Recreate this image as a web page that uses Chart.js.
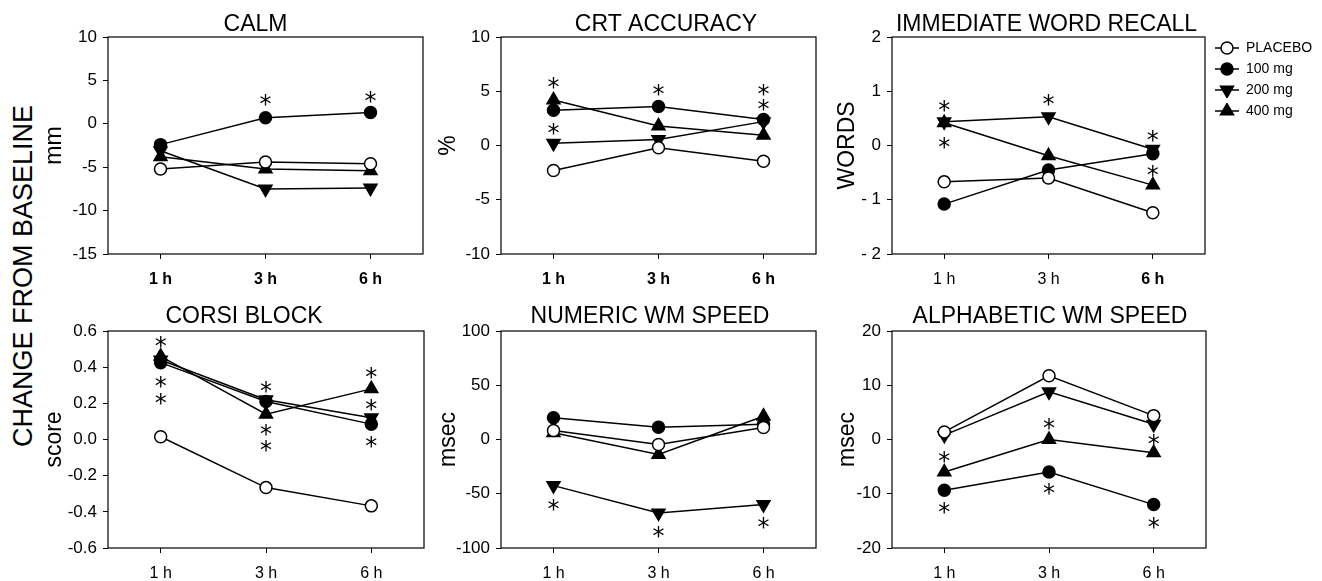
<!DOCTYPE html>
<html><head><meta charset="utf-8">
<script src="https://cdn.jsdelivr.net/npm/chart.js@4.4.1/dist/chart.umd.min.js"></script>
<style>
html,body{margin:0;padding:0;background:#fff;overflow:hidden;}
#wrap{position:relative;width:1322px;height:581px;}
#wrap canvas{position:absolute;}
#ylab{position:absolute;left:23px;top:276px;transform:translate(-50%,-50%) rotate(-90deg);font:27px "Liberation Sans",Arial,sans-serif;white-space:nowrap;color:#000;}
</style></head><body>
<div id="wrap"><div id="ylab">CHANGE FROM BASELINE</div></div>
<script>
// ---------- data ----------
const timepoints = ['1 h', '3 h', '6 h'];
const seriesNames = ['PLACEBO', '100 mg', '200 mg', '400 mg'];

// CALM (mm)
const calmPlacebo = [-5.2, -4.4, -4.6];
const calm100 = [-2.4, 0.7, 1.3];
const calm200 = [-3.1, -7.5, -7.4];
const calm400 = [-3.8, -5.2, -5.4];
const calmStars = [[1, 2.7], [2, 3.1]];
const calmTicks = [-15, -10, -5, 0, 5, 10];
const calmTickLabels = ['-15', '-10', '-5', '0', '5', '10'];

// CRT ACCURACY (%)
const crtPlacebo = [-2.3, -0.2, -1.45];
const crt100 = [3.25, 3.6, 2.4];
const crt200 = [0.2, 0.55, 2.2];
const crt400 = [4.2, 1.8, 0.95];
const crtStars = [[0, 5.8], [0, 1.55], [1, 5.1], [2, 5.15], [2, 3.75]];
const crtTicks = [-10, -5, 0, 5, 10];
const crtTickLabels = ['-10', '-5', '0', '5', '10'];

// IMMEDIATE WORD RECALL (words)
const iwrPlacebo = [-0.67, -0.6, -1.24];
const iwr100 = [-1.08, -0.45, -0.15];
const iwr200 = [0.44, 0.53, -0.07];
const iwr400 = [0.42, -0.19, -0.73];
const iwrStars = [[0, 0.72], [0, 0.05], [1, 0.83], [2, 0.17], [2, -0.47]];
const iwrTicks = [-2, -1, 0, 1, 2];
const iwrTickLabels = ['- 2', '- 1', '0', '1', '2'];

// CORSI BLOCK (score)
const corsiPlacebo = [0.015, -0.266, -0.367];
const corsi100 = [0.425, 0.21, 0.085];
const corsi200 = [0.44, 0.22, 0.12];
const corsi400 = [0.46, 0.14, 0.28];
const corsiStars = [[0, 0.54], [0, 0.32], [0, 0.225], [1, 0.29], [1, 0.05], [1, -0.035], [2, 0.365], [2, 0.19], [2, -0.015]];
const corsiTicks = [-0.6, -0.4, -0.2, 0, 0.2, 0.4, 0.6];
const corsiTickLabels = ['-0.6', '-0.4', '-0.2', '0.0', '0.2', '0.4', '0.6'];

// NUMERIC WM SPEED (msec)
const numPlacebo = [8.3, -4.6, 11];
const num100 = [20, 11.4, 14];
const num200 = [-42.5, -67.7, -60];
const num400 = [6.2, -13.8, 21.5];
const numStars = [[0, -60], [1, -85], [2, -77]];
const numTicks = [-100, -50, 0, 50, 100];
const numTickLabels = ['-100', '-50', '0', '50', '100'];

// ALPHABETIC WM SPEED (msec)
const alphaPlacebo = [1.4, 11.75, 4.4];
const alpha100 = [-9.35, -6.0, -12.0];
const alpha200 = [0.8, 8.8, 2.8];
const alpha400 = [-6.0, 0, -2.45];
const alphaStars = [[0, -3.2], [0, -12.7], [1, 2.8], [1, -9.2], [2, -0.1], [2, -15.3]];
const alphaTicks = [-20, -10, 0, 10, 20];
const alphaTickLabels = ['-20', '-10', '0', '10', '20'];

// ---------- styling ----------
const FONT = '"Liberation Sans", Arial, Helvetica, sans-serif';
const markerStyles = [
  { pointStyle: 'circle', rotation: 0, bg: '#ffffff', r: 6 },
  { pointStyle: 'circle', rotation: 0, bg: '#000000', r: 6 },
  { pointStyle: 'triangle', rotation: 180, bg: '#000000', r: 7.5 },
  { pointStyle: 'triangle', rotation: 0, bg: '#000000', r: 7.5 }
];

function legendIcon(i) {
  const c = document.createElement('canvas');
  c.width = 24; c.height = 16;
  const g = c.getContext('2d');
  g.strokeStyle = '#000'; g.lineWidth = 1.5;
  g.beginPath(); g.moveTo(0, 8); g.lineTo(24, 8); g.stroke();
  const st = markerStyles[i];
  g.fillStyle = st.bg; g.lineWidth = 1.5;
  g.beginPath();
  if (st.pointStyle === 'circle') {
    g.arc(12, 8, st.r, 0, Math.PI * 2);
  } else {
    const r = st.r, dir = st.rotation === 180 ? -1 : 1;
    for (let k = 0; k < 3; k++) {
      const a = k * 2 * Math.PI / 3;
      const px = 12 + Math.sin(a) * r, py = 8 - dir * Math.cos(a) * r;
      if (k === 0) g.moveTo(px, py); else g.lineTo(px, py);
    }
    g.closePath();
  }
  g.fill(); g.stroke();
  return c;
}
const legendIcons = [0, 1, 2, 3].map(legendIcon);

const starPlugin = {
  id: 'stars',
  afterDatasetsDraw(chart, args, opts) {
    const pts = opts.points || [];
    const { ctx } = chart;
    const xs = chart.scales.x, ys = chart.scales.y;
    ctx.save();
    ctx.font = '24px "DejaVu Sans", sans-serif';
    ctx.fillStyle = '#000';
    ctx.textAlign = 'center';
    ctx.textBaseline = 'alphabetic';
    const m = ctx.measureText('*');
    const off = (m.actualBoundingBoxAscent - m.actualBoundingBoxDescent) / 2;
    pts.forEach(([i, v]) => {
      ctx.fillText('*', xs.getPixelForValue(i), ys.getPixelForValue(v) + off);
    });
    ctx.restore();
  }
};

const framePlugin = {
  id: 'frame',
  beforeDatasetsDraw(chart) {
    const { ctx, chartArea: a } = chart;
    ctx.save();
    ctx.strokeStyle = '#000';
    ctx.lineWidth = 1.2;
    ctx.strokeRect(a.left, a.top, a.right - a.left, a.bottom - a.top);
    ctx.restore();
  }
};

const shiftPlugin = {
  id: 'shift',
  beforeUpdate(chart, args, opts) {
    const lg = chart.legend;
    if (lg && opts.legendWidth && !lg._patched) {
      const orig = lg.fit;
      lg.fit = function () { orig.call(this); this.width = opts.legendWidth; };
      lg._patched = true;
    }
  },
  afterLayout(chart, args, opts) {
    if (chart.titleBlock && opts.titleDx) {
      chart.titleBlock.left += opts.titleDx;
      chart.titleBlock.right += opts.titleDx;
    }
    if (chart.legend && opts.legendWidth) {
      chart.legend.top = chart.chartArea.top + (opts.legendDy || 0);
      chart.legend.left += opts.legendDx || 0;
    }
  }
};

const wrap = document.getElementById('wrap');

function makePanel(p) {
  const c = document.createElement('canvas');
  c.width = p.w; c.height = p.h;
  c.style.left = p.left + 'px'; c.style.top = p.top + 'px';
  c.style.width = p.w + 'px'; c.style.height = p.h + 'px';
  wrap.appendChild(c);
  const series = [p.placebo, p.d100, p.d200, p.d400];
  const datasets = series.map((d, i) => ({
    label: seriesNames[i], data: d, borderColor: '#000', borderWidth: 1.5,
    backgroundColor: markerStyles[i].bg, pointBackgroundColor: markerStyles[i].bg,
    pointBorderColor: '#000', pointBorderWidth: 1.5,
    pointStyle: markerStyles[i].pointStyle, pointRotation: markerStyles[i].rotation,
    pointRadius: markerStyles[i].r, tension: 0, fill: false, clip: false
  }));
  const legendOpts = p.legend ? {
    display: true, position: 'right', align: 'start',
    labels: {
      usePointStyle: true, pointStyleWidth: 24, boxHeight: 14, padding: 7, color: '#000',
      font: { family: FONT, size: 14 },
      generateLabels: chart => chart.data.datasets.map((ds, i) => ({
        text: ds.label, pointStyle: legendIcons[i], rotation: 0,
        fillStyle: '#000', strokeStyle: '#000', lineWidth: 0,
        hidden: false, datasetIndex: i, fontColor: '#000'
      }))
    }
  } : { display: false };
  new Chart(c, {
    type: 'line',
    data: { labels: timepoints, datasets },
    plugins: [shiftPlugin, framePlugin, starPlugin],
    options: {
      responsive: false, animation: false, events: [],
      layout: { padding: { left: 0, right: p.padR, top: 0, bottom: 0 } },
      plugins: {
        legend: legendOpts, tooltip: { enabled: false },
        title: { display: true, text: p.title, fullSize: false, color: '#000',
          font: { family: FONT, size: 23, weight: 'normal', lineHeight: 1 }, padding: { top: 0, bottom: p.pb } },
        stars: { points: p.stars },
        shift: { titleDx: p.dx, legendWidth: p.legend ? 117 : 0, legendDy: -3, legendDx: 3 }
      },
      scales: {
        x: { type: 'category', offset: true,
          grid: { display: true, drawOnChartArea: false, drawTicks: true, tickLength: 5, offset: false, color: '#000', lineWidth: 1 },
          border: { display: false },
          ticks: { color: '#000', padding: 11, maxRotation: 0, autoSkip: false,
            font: ctx => ({ family: FONT, size: 16, weight: p.bold[ctx.index] ? 'bold' : 'normal' }) },
          afterFit: s => { s.height = 33; } },
        y: { type: 'linear', min: p.ticks[0], max: p.ticks[p.ticks.length - 1],
          afterBuildTicks: s => { s.ticks = p.ticks.map(v => ({ value: v })); },
          ticks: { color: '#000', padding: 6, font: { family: FONT, size: 17 }, callback: (v, i) => p.tickLabels[i] },
          grid: { display: true, drawOnChartArea: false, drawTicks: true, tickLength: 5, color: '#000', lineWidth: 1 },
          border: { display: false },
          title: { display: true, text: p.ytitle, color: '#000', font: { family: FONT, size: 23, lineHeight: 1 }, padding: 0 },
          afterFit: s => { s.width = p.axisW; } }
      }
    }
  });
}

const panels = [
  { title: 'CALM', ytitle: 'mm', left: 43, top: 13, w: 389, h: 274, axisW: 65, padR: 4, pb: 1, dx: -10,
    placebo: calmPlacebo, d100: calm100, d200: calm200, d400: calm400, stars: calmStars,
    ticks: calmTicks, tickLabels: calmTickLabels, bold: [true, true, true] },
  { title: 'CRT ACCURACY', ytitle: '%', left: 437, top: 13, w: 388, h: 274, axisW: 64, padR: 4, pb: 1, dx: 7.5,
    placebo: crtPlacebo, d100: crt100, d200: crt200, d400: crt400, stars: crtStars,
    ticks: crtTicks, tickLabels: crtTickLabels, bold: [true, true, true] },
  { title: 'IMMEDIATE WORD RECALL', ytitle: 'WORDS', left: 836, top: 13, w: 486, h: 274, axisW: 56, padR: 0, pb: 1, dx: -2, legend: true,
    placebo: iwrPlacebo, d100: iwr100, d200: iwr200, d400: iwr400, stars: iwrStars,
    ticks: iwrTicks, tickLabels: iwrTickLabels, bold: [false, false, true] },
  { title: 'CORSI BLOCK', ytitle: 'score', left: 43, top: 305, w: 390, h: 276, axisW: 65, padR: 4, pb: 3, dx: -22,
    placebo: corsiPlacebo, d100: corsi100, d200: corsi200, d400: corsi400, stars: corsiStars,
    ticks: corsiTicks, tickLabels: corsiTickLabels, bold: [false, false, false] },
  { title: 'NUMERIC WM SPEED', ytitle: 'msec', left: 437, top: 305, w: 388, h: 276, axisW: 64, padR: 4, pb: 3, dx: -8.5,
    placebo: numPlacebo, d100: num100, d200: num200, d400: num400, stars: numStars,
    ticks: numTicks, tickLabels: numTickLabels, bold: [false, false, false] },
  { title: 'ALPHABETIC WM SPEED', ytitle: 'msec', left: 836, top: 305, w: 379, h: 276, axisW: 56, padR: 4, pb: 3, dx: 1,
    placebo: alphaPlacebo, d100: alpha100, d200: alpha200, d400: alpha400, stars: alphaStars,
    ticks: alphaTicks, tickLabels: alphaTickLabels, bold: [false, false, false] }
];
panels.forEach(makePanel);
</script>
</body></html>
